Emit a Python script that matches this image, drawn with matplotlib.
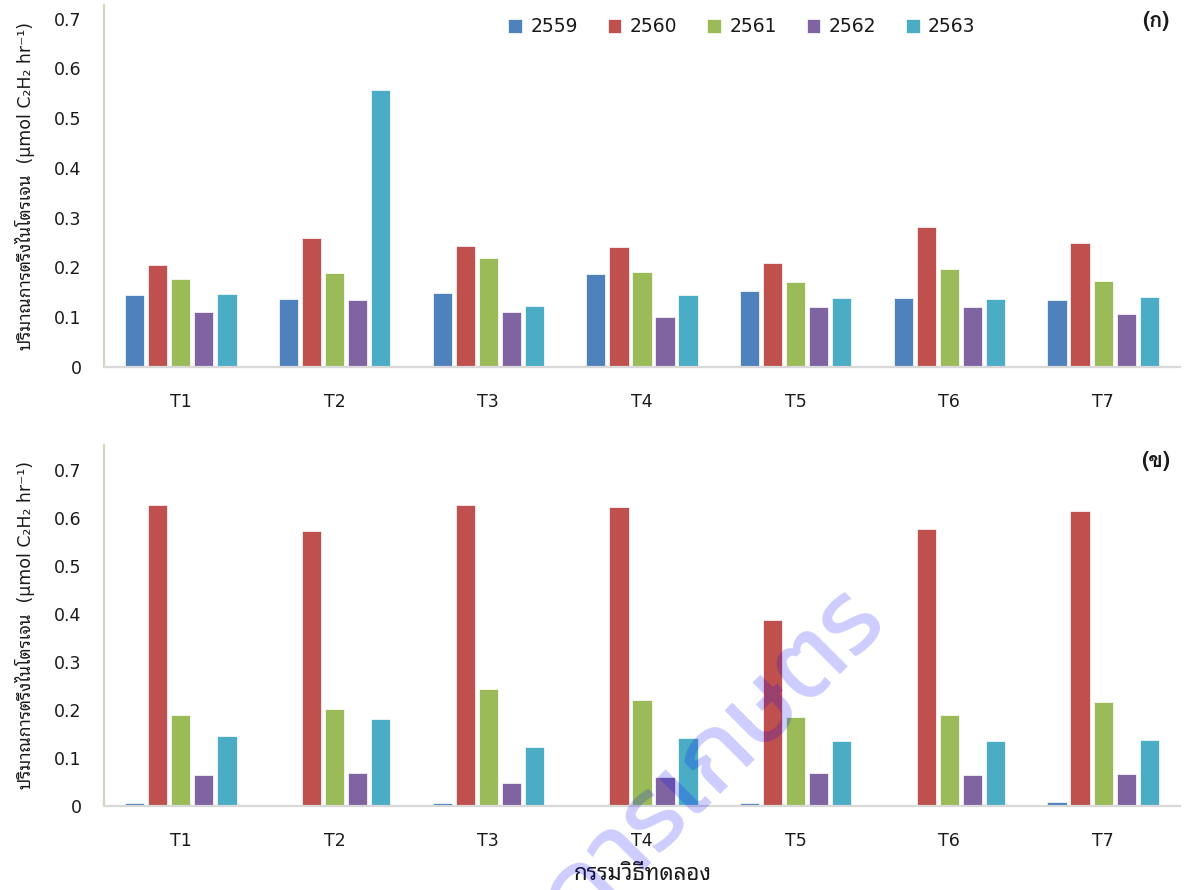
import numpy as np
import matplotlib
matplotlib.use('Agg')
import matplotlib.pyplot as plt

# =============================================================================
# DATA
# =============================================================================

treatments = ['T1', 'T2', 'T3', 'T4', 'T5', 'T6', 'T7']
years = ['2559', '2560', '2561', '2562', '2563']

# (ก) nitrogen fixation rate, umol C2H2 / hr
fix_a_2559 = [0.144, 0.137, 0.149, 0.186, 0.152, 0.139, 0.134]
fix_a_2560 = [0.204, 0.260, 0.244, 0.242, 0.209, 0.281, 0.250]
fix_a_2561 = [0.176, 0.188, 0.219, 0.191, 0.170, 0.196, 0.173]
fix_a_2562 = [0.111, 0.134, 0.111, 0.100, 0.121, 0.121, 0.106]
fix_a_2563 = [0.147, 0.557, 0.123, 0.144, 0.139, 0.137, 0.141]

# (ข)
fix_b_2559 = [0.006, 0.003, 0.006, 0.003, 0.006, 0.003, 0.009]
fix_b_2560 = [0.626, 0.572, 0.626, 0.623, 0.387, 0.577, 0.615]
fix_b_2561 = [0.189, 0.203, 0.243, 0.221, 0.186, 0.189, 0.216]
fix_b_2562 = [0.064, 0.069, 0.047, 0.061, 0.069, 0.064, 0.066]
fix_b_2563 = [0.146, 0.181, 0.122, 0.141, 0.135, 0.135, 0.138]

yticks = [0, 0.1, 0.2, 0.3, 0.4, 0.5, 0.6, 0.7]
ytick_labels = ['0', '0.1', '0.2', '0.3', '0.4', '0.5', '0.6', '0.7']

ylabel = 'ปริมาณการตรึงไนโตรเจน  (µmol C₂H₂ hr⁻¹)'
xlabel = 'กรรมวิธีทดลอง'

# =============================================================================
# STYLE
# =============================================================================

colors = ['#4F81BD', '#C0504D', '#9BBB59', '#8064A2', '#4BACC6']
FONTS = ['DejaVu Sans', 'Noto Sans Thai Looped', 'Loma']
THAI = ['Noto Sans Thai Looped', 'Loma', 'DejaVu Sans']

plt.rcParams['font.family'] = FONTS
plt.rcParams['text.color'] = '#1a1a1a'


def draw_panel(ax, series, ytop, tag):
    """Grouped bars, one group per treatment, one bar per year."""
    x = np.arange(len(treatments))
    pitch = 0.15
    width = 0.125
    bars = []
    for i, (vals, col) in enumerate(zip(series, colors)):
        b = ax.bar(x + (i - 2) * pitch, vals, width, color=col,
                   edgecolor='white', linewidth=0.5, label=years[i])
        bars.append(b)

    ax.set_xlim(-0.5, len(treatments) - 0.5)
    ax.set_ylim(0, ytop)
    ax.set_yticks(yticks)
    ax.set_yticklabels(ytick_labels)
    ax.set_xticks(x)
    ax.set_xticklabels(treatments)
    ax.tick_params(axis='y', length=0, pad=16, labelsize=12.5, labelcolor='#1a1a1a')
    ax.tick_params(axis='x', length=0, pad=18.5, labelsize=12.5, labelcolor='#1a1a1a')

    for s in ['top', 'right']:
        ax.spines[s].set_visible(False)
    ax.spines['left'].set_color('#d8d4bf')
    ax.spines['left'].set_linewidth(1.6)
    ax.spines['bottom'].set_color('#d9d9d9')
    ax.spines['bottom'].set_linewidth(1.6)

    ax.text(0.9905, 1 - 16 / 362, tag, transform=ax.transAxes, ha='right', va='center',
            fontsize=15.5, fontweight='bold', family=['Loma', 'DejaVu Sans'])
    return bars


# =============================================================================
# FIGURE
# =============================================================================

fig = plt.figure(figsize=(11.84, 8.90), dpi=100)

ax1 = fig.add_axes([0.0878, 0.5876, 0.9088, 0.4067])
ax2 = fig.add_axes([0.0878, 0.0944, 0.9088, 0.4056])

bars = draw_panel(ax1, [fix_a_2559, fix_a_2560, fix_a_2561, fix_a_2562, fix_a_2563],
                  0.727, '(ก)')
draw_panel(ax2, [fix_b_2559, fix_b_2560, fix_b_2561, fix_b_2562, fix_b_2563],
           0.752, '(ข)')

# legend across the top of panel (ก)
fig.legend(handles=bars, labels=years, loc='center', ncol=5, frameon=False,
           bbox_to_anchor=(742 / 1184, 1 - 27 / 890), fontsize=13.5,
           handlelength=0.72, handleheight=0.72, handletextpad=0.45,
           columnspacing=1.6)

# y labels, one per panel
for ax in (ax1, ax2):
    pos = ax.get_position()
    fig.text(25 / 1184, pos.y0 + pos.height / 2, ylabel, rotation=90,
             ha='center', va='center', fontsize=12.5)

fig.text(643 / 1184, 1 - 875 / 890, xlabel, ha='center', va='center',
         fontsize=16, family=THAI)

# watermark
fig.text(872 / 1184, 1 - 604 / 890, 'กรมวิชาการเกษตร', rotation=45,
         rotation_mode='anchor', ha='right', va='center', fontsize=74,
         fontweight='normal', color='#0000ff', alpha=0.2,
         family=['Kanit', 'Bai Jamjuree', 'Noto Sans Thai', 'Loma'], zorder=10)

fig.savefig('out.png', dpi=100)
